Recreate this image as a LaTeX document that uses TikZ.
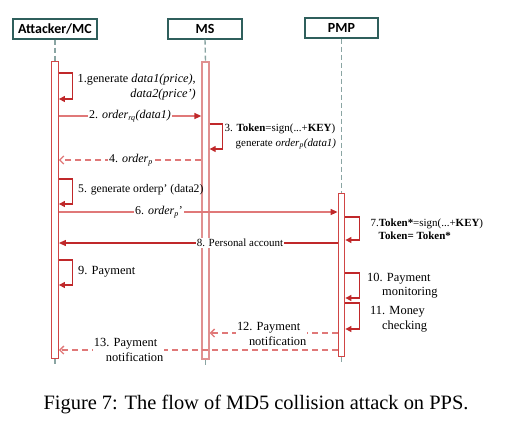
\documentclass[tikz,border=0pt]{standalone}
\usepackage{fontspec}
\setmainfont{Liberation Serif}
\newfontfamily\boxfont{Carlito}
\usetikzlibrary{arrows.meta}
\definecolor{redD}{HTML}{C0282A}
\definecolor{redL}{HTML}{E07878}
\definecolor{barR}{HTML}{D04545}
\definecolor{barL}{HTML}{E09090}
\definecolor{boxC}{HTML}{2F5F5C}
\definecolor{lifeC}{HTML}{8AA5A3}
\begin{document}
\begin{tikzpicture}[x=1bp,y=-1bp,
  actor/.style={draw=boxC, line width=1.4bp, fill=white, minimum height=20bp, inner sep=0pt,
    font=\boxfont\bfseries\fontsize{14}{16}\selectfont},
  barbox/.style={draw=barR, line width=1.3bp, fill=white, minimum width=6.5bp, inner sep=0pt, anchor=north},
  life/.style={draw=lifeC, dash pattern=on 5bp off 3bp, line width=1.4bp},
  msgsolid/.style={draw=redD, line width=1.1bp, -{Triangle[length=7bp,width=6bp,color=redD]}},
  msglight/.style={draw=redL, line width=1.4bp, -{Triangle[length=7bp,width=6bp,color=redD]}},
  msgret/.style={draw=redL, line width=1.3bp, dash pattern=on 6bp off 4bp, -{Straight Barb[length=4bp,width=8bp]}},
  selfloop/.style={draw=redD, line width=1.1bp, -{Triangle[length=6bp,width=6bp]}},
  lbl/.style={font=\fontsize{12}{15}\selectfont, inner sep=1pt},
  lblw/.style={lbl, fill=white, inner sep=0.8pt},
  small/.style={font=\fontsize{11}{14}\selectfont},
  large/.style={font=\fontsize{12.5}{15}\selectfont},
]
\useasboundingbox (0,0) rectangle (513,425);

% actors
\node[actor, minimum width=84bp] (att) at (55,29) {Attacker/MC};
\node[actor, minimum width=74bp] (ms) at (205,29) {MS};
\node[actor, minimum width=73bp] (pmp) at (341.5,28) {PMP};

% lifelines
\draw[life] (att.south) -- (55,61) coordinate (la);
\draw[life] (ms.south) -- (205.5,61) coordinate (lm);
\draw[life] (pmp.south) -- (341.5,193) coordinate (lp);

% activation bars
\node[barbox, minimum height=297bp] (ba) at (la) {};
\node[barbox, draw=barL, line width=1.8bp, minimum height=297bp] (bm) at (lm) {};
\node[barbox, minimum height=163bp] (bp) at (lp) {};

\draw[life] (ba.south) -- ++(0,5);
\draw[life] (bm.south) -- ++(0,5);
\draw[life] (bp.south) -- ++(0,6);

% 1
\draw[selfloop] (ba.east |- 0,73) -- ++(14,0) |- (ba.east |- 0,99);
\node[lbl, align=right, anchor=east, font=\fontsize{12.3}{15}\selectfont] (l1) at (197,87.5)
  {1.generate \textit{data1(price)},\\ \textit{data2(price')}};
% 2
\draw[msglight] (ba.east |- 0,116) -- (bm.west |- 0,116);
\node[lblw] (l2) at (130,116) {2. \textit{order}\textsubscript{\textit{rq}}\textit{(data1)}};
% 3
\draw[selfloop] (bm.east |- 0,124) -- ++(13,0) |- (bm.east |- 0,149);
\node[lbl, align=left, anchor=west, font=\fontsize{11}{15}\selectfont] (l3) at (223.5,136.5)
  {3. \textbf{Token}=sign(...+\textbf{KEY})\\ \hspace*{11bp}generate \textit{order}\textsubscript{\textit{p}}\textit{(data1)}};
% 4
\draw[msgret] (bm.west |- 0,160) -- (ba.east |- 0,160);
\node[lblw] (l4) at (131,160) {4. \textit{order}\textsubscript{\textit{p}}};
% 5
\draw[selfloop] (ba.east |- 0,179) -- ++(14,0) |- (ba.east |- 0,204);
\node[lbl, anchor=west, font=\fontsize{11.7}{14}\selectfont] (l5) at (77,190) {5. generate orderp' (data2)};
% 6
\draw[msglight] (ba.east |- 0,212) -- (bp.west |- 0,212);
\node[lblw] (l6) at (159,212) {6. \textit{order}\textsubscript{\textit{p}}'};
% 7
\draw[selfloop] (bp.east |- 0,217) -- ++(14,0) |- (bp.east |- 0,240);
\node[lbl, align=left, anchor=west, font=\fontsize{11}{13.5}\selectfont] (l7) at (369.5,229.5)
  {7.\textbf{Token*}=sign(...+\textbf{KEY})\\ \hspace*{8bp}\textbf{Token= Token*}};
% 8
\draw[msgsolid] (bp.west |- 0,243) -- (ba.east |- 0,243);
\node[lblw, small] (l8) at (240,243) {8. Personal account};
% 9
\draw[selfloop] (ba.east |- 0,260) -- ++(14,0) |- (ba.east |- 0,285);
\node[lbl, large, anchor=west] (l9) at (77,272) {9. Payment};
% 10
\draw[selfloop] (bp.east |- 0,273) -- ++(14,0) |- (bp.east |- 0,298);
\node[lbl, align=left, anchor=west, font=\fontsize{12.5}{14}\selectfont] (l10) at (366,286)
  {10. Payment\\ \hspace*{15bp}monitoring};
% 11
\draw[selfloop] (bp.east |- 0,303) -- ++(14,0) |- (bp.east |- 0,329);
\node[lbl, large, align=left, anchor=west] (l11) at (369,319.5)
  {11. Money\\ \hspace*{12bp}checking};
% 12
\draw[msgret] (bp.west |- 0,333) -- (bm.east |- 0,333);
\node[lblw, large, align=left, anchor=west] (l12) at (236,333.5) {12. Payment\\ \hspace*{12bp}notification};
% 13
\draw[msgret] (bp.west |- 0,350) -- (ba.east |- 0,350);
\node[lblw, large, align=left, anchor=west] (l13) at (93,349.5) {13. Payment\\ \hspace*{12bp}notification};

% caption
\node[font=\fontsize{20.5}{24}\selectfont, inner sep=0pt] (cap) at (256,405) {Figure 7: The flow of MD5 collision attack on PPS.};
\end{tikzpicture}
\end{document}
